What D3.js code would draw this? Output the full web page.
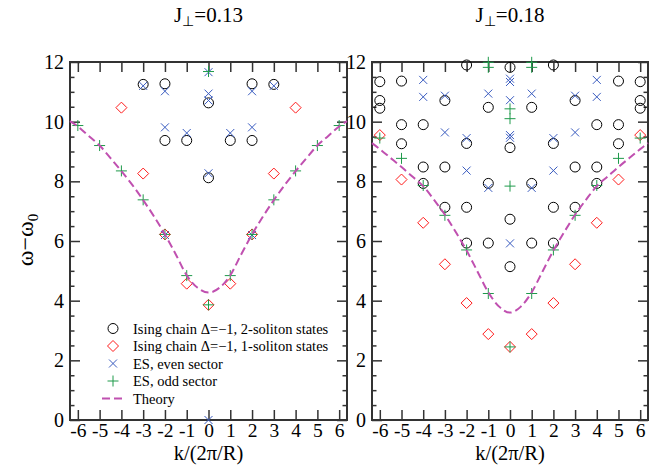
<!DOCTYPE html>
<html>
<head>
<meta charset="utf-8">
<script src="https://cdnjs.cloudflare.com/ajax/libs/d3/7.8.5/d3.min.js"></script>
<style>
  body { margin: 0; background: #fff; }
  text { font-family: "Liberation Serif", "Times New Roman", serif; fill: #000; }
</style>
</head>
<body>
<script>
// ---- data ----
const kTicks = [-6, -5, -4, -3, -2, -1, 0, 1, 2, 3, 4, 5, 6];
const wTicks = [0, 2, 4, 6, 8, 10, 12];

// J_perp = 0.13
const a_twoSol = [[-3, 11.25], [-2, 11.27], [2, 11.27], [3, 11.25], [0, 10.63],
  [-2, 9.37], [-1, 9.37], [1, 9.37], [2, 9.37], [0, 8.12]];
const a_oneSol = [[-4, 10.47], [4, 10.47], [-3, 8.26], [3, 8.26], [-2, 6.22], [2, 6.22],
  [-1, 4.57], [1, 4.57], [0, 3.86]];
const a_even = [[-3, 11.2], [3, 11.2], [-2, 11.02], [2, 11.02], [0, 11.66], [0, 10.94], [0, 10.71],
  [-2, 9.81], [2, 9.81], [-1, 9.62], [1, 9.62], [0, 8.27], [-2, 6.2], [2, 6.2], [0, 0]];
const a_odd = [[-6, 9.87], [6, 9.87], [-5, 9.2], [5, 9.2], [-4, 8.35], [4, 8.35], [-3, 7.38], [3, 7.38],
  [-2, 6.22], [2, 6.22], [-1, 4.84], [1, 4.84], [0, 3.86], [0, 11.68]];
const a_theoryK = [-6.36, -6, -5.5, -5, -4.5, -4, -3.5, -3, -2.5, -2, -1.5, -1, -0.5, 0,
  0.5, 1, 1.5, 2, 2.5, 3, 3.5, 4, 4.5, 5, 5.5, 6, 6.36];
const a_theoryW = [10.02, 9.84, 9.52, 9.2, 8.78, 8.34, 7.88, 7.37, 6.82, 6.22, 5.55, 4.85, 4.43, 4.27,
  4.43, 4.85, 5.55, 6.22, 6.82, 7.37, 7.88, 8.34, 8.78, 9.2, 9.52, 9.84, 10.02];

// J_perp = 0.18
const b_twoSol = [
  [-6, 11.34], [-6, 10.71], [-6, 10.45], [6, 11.34], [6, 10.71], [6, 10.45],
  [-5, 11.36], [-5, 9.9], [-5, 9.26], [5, 11.36], [5, 9.9], [5, 9.26],
  [-4, 9.9], [-4, 8.48], [-4, 7.93], [4, 9.9], [4, 8.48], [4, 7.93],
  [-3, 10.71], [-3, 8.48], [-3, 7.13], [3, 10.71], [3, 8.48], [3, 7.13],
  [-2, 11.9], [-2, 9.27], [-2, 7.13], [-2, 5.93], [2, 11.9], [2, 9.27], [2, 7.13], [2, 5.93],
  [-1, 10.48], [-1, 7.93], [-1, 5.93], [1, 10.48], [1, 7.93], [1, 5.93],
  [0, 11.82], [0, 9.13], [0, 6.73], [0, 5.14]];
const b_oneSol = [[-6, 9.55], [6, 9.55], [-5, 8.06], [5, 8.06], [-4, 6.61], [4, 6.61],
  [-3, 5.22], [3, 5.22], [-2, 3.92], [2, 3.92], [-1, 2.88], [1, 2.88], [0, 2.45]];
const b_even = [[-4, 11.4], [-4, 10.83], [4, 11.4], [4, 10.83],
  [-3, 10.87], [-3, 9.64], [3, 10.87], [3, 9.64],
  [-2, 9.45], [-2, 8.36], [2, 9.45], [2, 8.36],
  [-1, 10.94], [-1, 7.78], [1, 10.94], [1, 7.78],
  [0, 11.44], [0, 11.33], [0, 10.72], [0, 9.55], [0, 9.46], [0, 5.92]];
const b_odd = [[-6, 9.45], [6, 9.45], [-5, 8.77], [5, 8.77], [-4, 7.86], [4, 7.86],
  [-3, 6.86], [3, 6.86], [-2, 5.7], [2, 5.7], [-1, 4.24], [1, 4.24],
  [-1, 11.99], [-1, 11.82], [1, 11.99], [1, 11.82],
  [0, 10.43], [0, 10.1], [0, 7.84], [0, 2.45]];
const b_theoryK = a_theoryK;
const b_theoryW = [9.28, 9.08, 8.78, 8.48, 8.16, 7.84, 7.38, 6.88, 6.3, 5.68, 4.98, 4.28, 3.8, 3.6,
  3.8, 4.28, 4.98, 5.68, 6.3, 6.88, 7.38, 7.84, 8.16, 8.48, 8.78, 9.08, 9.28];

const legendLabels = ["Ising chain \u0394=\u22121, 2-soliton states",
  "Ising chain \u0394=\u22121, 1-soliton states",
  "ES, even sector", "ES, odd sector", "Theory"];

// ---- drawing ----
const W = 658, H = 468;
const yTop = 62, yBot = 420;
const colCircle = "#000", colDiamond = "#ff1a1a", colEven = "#3a5cc0", colOdd = "#1e9a4a", colTheory = "#c050b0";

const svg = d3.select("body").append("svg").attr("width", W).attr("height", H);

const y = d3.scaleLinear().domain([0, 12]).range([yBot, yTop]);
const minor = d3.range(0, 12.01, 0.5).filter(v => v % 2 !== 0);

function symbolPath(sel, kind) {
  if (kind == "circle") sel.attr("d", d3.symbol().type(d3.symbolCircle).size(Math.PI * 25)).attr("stroke", colCircle);
  if (kind == "diamond") sel.attr("d", "M0,-5.5L5.5,0L0,5.5L-5.5,0Z").attr("stroke", colDiamond);
  if (kind == "even") sel.attr("d", "M-4,-4L4,4M-4,4L4,-4").attr("stroke", colEven);
  if (kind == "odd") sel.attr("d", "M-5.5,0H5.5M0,-5.5V5.5").attr("stroke", colOdd);
}

function drawSymbols(g, x, data, kind) {
  const sel = g.append("g").selectAll("path").data(data).enter().append("path")
    .attr("transform", d => "translate(" + x(d[0]) + "," + y(d[1]) + ")")
    .attr("fill", "none").attr("stroke-width", 1);
  symbolPath(sel, kind);
}

function panel(x0, x1, title, twoSol, oneSol, even, odd, thK, thW) {
  const x = d3.scaleLinear().domain([-6.36, 6.36]).range([x0, x1]);
  const g = svg.append("g");

  // axes, ticks pointing inward
  g.append("g").attr("transform", "translate(0," + yBot + ")")
    .call(d3.axisBottom(x).tickValues(kTicks).tickSize(-10).tickPadding(3).tickFormat(d => d))
    .call(s => s.selectAll("text").attr("font-size", 19.5).attr("font-family", "Liberation Serif"));
  g.append("g").attr("transform", "translate(0," + yTop + ")")
    .call(d3.axisTop(x).tickValues(kTicks).tickSize(-10).tickFormat(""));
  g.append("g").attr("transform", "translate(" + x0 + ",0)")
    .call(d3.axisLeft(y).tickValues(wTicks).tickSize(-10).tickPadding(6))
    .call(s => s.selectAll("text").attr("font-size", 20).attr("font-family", "Liberation Serif"));
  g.append("g").attr("transform", "translate(" + x0 + ",0)")
    .call(d3.axisLeft(y).tickValues(minor).tickSize(-4.5).tickFormat(""));
  g.append("g").attr("transform", "translate(" + x1 + ",0)")
    .call(d3.axisRight(y).tickValues(wTicks).tickSize(-10).tickFormat(""));
  g.append("g").attr("transform", "translate(" + x1 + ",0)")
    .call(d3.axisRight(y).tickValues(minor).tickSize(-4.5).tickFormat(""));
  g.selectAll(".domain").remove();
  g.selectAll(".tick line").attr("stroke", "#333").attr("stroke-width", 1.5);

  g.append("rect").attr("x", x0).attr("y", yTop).attr("width", x1 - x0).attr("height", yBot - yTop)
    .attr("fill", "none").attr("stroke", "#333").attr("stroke-width", 2);

  drawSymbols(g, x, twoSol, "circle");
  drawSymbols(g, x, oneSol, "diamond");
  drawSymbols(g, x, even, "even");
  drawSymbols(g, x, odd, "odd");

  const line = d3.line().x(d => x(d[0])).y(d => y(d[1])).curve(d3.curveMonotoneX);
  g.append("path").datum(thK.map((k, i) => [k, thW[i]])).attr("d", line)
    .attr("fill", "none").attr("stroke", colTheory).attr("stroke-width", 2).attr("stroke-dasharray", "8,4");

  // title
  const cx = x(0);
  const t = svg.append("text").attr("x", cx).attr("y", 22).attr("text-anchor", "middle").attr("font-size", 21);
  t.append("tspan").text("J");
  t.append("tspan").attr("font-size", 14).attr("dy", 4).text("\u22a5");
  t.append("tspan").attr("dy", -4).text("=" + title);

  svg.append("text").attr("x", cx).attr("y", 460).attr("text-anchor", "middle").attr("font-size", 20.5)
    .text("k/(2\u03c0/R)");
}

panel(70, 347, "0.13", a_twoSol, a_oneSol, a_even, a_odd, a_theoryK, a_theoryW);
panel(372, 648, "0.18", b_twoSol, b_oneSol, b_even, b_odd, b_theoryK, b_theoryW);

// y label
const yl = svg.append("text").attr("transform", "translate(33,240) rotate(-90)")
  .attr("text-anchor", "middle").attr("font-size", 24);
yl.append("tspan").text("\u03c9\u2212\u03c9");
yl.append("tspan").attr("font-size", 15).attr("dy", 5).text("0");

// legend
const leg = svg.append("g");
const kinds = ["circle", "diamond", "even", "odd"];
legendLabels.forEach((lab, i) => {
  const yy = 328.5 + i * 17.5;
  const row = leg.append("g").attr("transform", "translate(113," + yy + ")");
  if (i < 4) {
    const p = row.append("path").attr("fill", "none").attr("stroke-width", 1);
    symbolPath(p, kinds[i]);
  } else {
    row.append("line").attr("x1", -11).attr("x2", 9).attr("stroke", colTheory)
      .attr("stroke-width", 2).attr("stroke-dasharray", "8,4");
  }
  row.append("text").attr("x", 20).attr("y", 5).attr("font-size", 14.5).text(lab);
});
</script>
</body>
</html>
